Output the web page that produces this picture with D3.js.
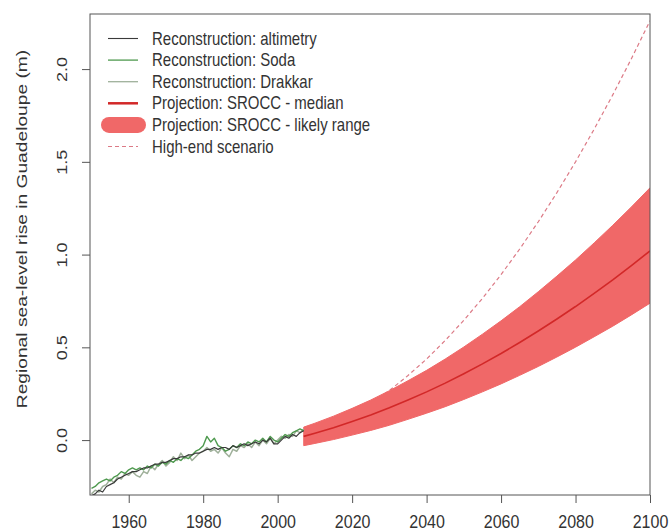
<!DOCTYPE html>
<html>
<head>
<meta charset="utf-8">
<script src="https://cdn.jsdelivr.net/npm/d3@7"></script>
<style>
  html, body { margin: 0; padding: 0; background: #fff; }
  svg { display: block; font-family: "Liberation Sans", Arial, sans-serif; }
</style>
</head>
<body>
<svg id="chart" width="670" height="532"></svg>
<script>
// Reconstructed sea level, annual values 1950-2007 (m)
const reconYears = d3.range(1950, 2008);
const altimetry = [-0.30,-0.29,-0.27,-0.28,-0.25,-0.24,-0.23,-0.21,-0.20,-0.19,
  -0.18,-0.17,-0.17,-0.16,-0.15,-0.15,-0.14,-0.13,-0.13,-0.12,
  -0.12,-0.11,-0.10,-0.10,-0.09,-0.09,-0.08,-0.08,-0.07,-0.07,
  -0.06,-0.05,-0.05,-0.04,-0.05,-0.04,-0.04,-0.05,-0.03,-0.04,
  -0.03,-0.02,-0.03,-0.02,-0.01,-0.02,0.00,-0.01,0.01,-0.02,
  -0.02,0.00,0.02,0.01,0.03,0.02,0.04,0.05];
const soda = [-0.26,-0.25,-0.23,-0.22,-0.21,-0.22,-0.20,-0.19,-0.17,-0.18,
  -0.16,-0.15,-0.16,-0.15,-0.16,-0.14,-0.15,-0.13,-0.14,-0.12,
  -0.13,-0.11,-0.12,-0.10,-0.11,-0.09,-0.10,-0.08,-0.06,-0.05,
  -0.03,0.02,-0.01,0.01,-0.03,-0.04,-0.06,-0.05,-0.03,-0.04,
  -0.02,-0.03,-0.01,-0.02,0.00,-0.01,0.01,-0.01,0.02,0.00,
  -0.01,0.01,0.03,0.02,0.04,0.05,0.06,0.05];
const drakkar = [-0.29,-0.27,-0.28,-0.25,-0.24,-0.21,-0.23,-0.20,-0.21,-0.18,
  -0.19,-0.17,-0.19,-0.20,-0.17,-0.18,-0.14,-0.16,-0.13,-0.11,
  -0.14,-0.12,-0.09,-0.11,-0.07,-0.10,-0.08,-0.11,-0.09,-0.07,
  -0.06,-0.04,-0.06,-0.05,-0.07,-0.04,-0.07,-0.09,-0.05,-0.06,
  -0.03,-0.04,-0.02,-0.04,-0.01,-0.03,0.00,-0.02,0.01,-0.02,
  0.00,0.02,0.01,0.03,0.02,0.05,0.04,0.06];

// SROCC projection (m)
const projYears = [2007,2010,2015,2020,2025,2030,2035,2040,2045,2050,2055,2060,2065,2070,2075,2080,2085,2090,2095,2100];
const srocMedian = [0.020,0.037,0.067,0.100,0.135,0.174,0.216,0.260,0.307,0.358,0.411,0.467,0.526,0.588,0.653,0.720,0.791,0.864,0.941,1.020];
const srocUpper = [0.070,0.091,0.129,0.171,0.216,0.266,0.320,0.376,0.437,0.502,0.571,0.643,0.719,0.800,0.884,0.971,1.063,1.158,1.257,1.360];
const srocLower = [-0.030,-0.018,0.003,0.027,0.052,0.080,0.112,0.145,0.180,0.219,0.260,0.303,0.349,0.397,0.448,0.501,0.557,0.614,0.675,0.738];
const highEnd = [0.020,0.041,0.083,0.135,0.196,0.267,0.348,0.437,0.537,0.646,0.764,0.892,1.030,1.177,1.334,1.500,1.676,1.861,2.056,2.260];

const xTicks = [1960,1980,2000,2020,2040,2060,2080,2100];
const yTicks = [0.0,0.5,1.0,1.5,2.0];
const legendLabels = ["Reconstruction: altimetry","Reconstruction: Soda","Reconstruction: Drakkar",
  "Projection: SROCC - median","Projection: SROCC - likely range","High-end scenario"];

const C = {
  altimetry: "#3a3a3a", soda: "#4f9a4f", drakkar: "#9fb09a",
  band: "#f06868", median: "#d22828", highEnd: "#dc7a86", frame: "#555", text: "#333"
};

// glyphs are drawn slightly tall, as in the printed figure
const TALL = 1.2;

const svg = d3.select("#chart");
const plot = {left: 90, right: 650, top: 14, bottom: 495};

const x = d3.scaleLinear().domain([1949.6, 2100]).range([plot.left, plot.right]);
const y = d3.scaleLinear().domain([-0.296, 2.297]).range([plot.bottom, plot.top]);

svg.append("clipPath").attr("id", "clip").append("rect")
  .attr("x", plot.left).attr("y", plot.top)
  .attr("width", plot.right - plot.left).attr("height", plot.bottom - plot.top);

const g = svg.append("g").attr("clip-path", "url(#clip)");

const line = d3.line().x(d => x(d[0])).y(d => y(d[1]));

// high-end scenario (beneath the likely range)
g.append("path")
  .attr("d", line(projYears.map((t, i) => [t, highEnd[i]])))
  .attr("fill", "none").attr("stroke", C.highEnd).attr("stroke-width", 1.2)
  .attr("stroke-dasharray", "4,3");

// likely range
const area = d3.area().x(d => x(d.t)).y0(d => y(d.lo)).y1(d => y(d.hi));
g.append("path")
  .attr("d", area(projYears.map((t, i) => ({t, lo: srocLower[i], hi: srocUpper[i]}))))
  .attr("fill", C.band).attr("stroke", C.band).attr("stroke-width", 1);

// median
g.append("path")
  .attr("d", line(projYears.map((t, i) => [t, srocMedian[i]])))
  .attr("fill", "none").attr("stroke", C.median).attr("stroke-width", 1.6);

// reconstructions
[[drakkar, C.drakkar, 1.5], [soda, C.soda, 1.4], [altimetry, C.altimetry, 1.2]].forEach(([vals, col, w]) => {
  g.append("path")
    .attr("d", line(reconYears.map((t, i) => [t, vals[i]])))
    .attr("fill", "none").attr("stroke", col).attr("stroke-width", w)
    .attr("stroke-linejoin", "round");
});

// frame
svg.append("rect")
  .attr("x", plot.left).attr("y", plot.top)
  .attr("width", plot.right - plot.left).attr("height", plot.bottom - plot.top)
  .attr("fill", "none").attr("stroke", C.frame).attr("stroke-width", 1);

// x axis
const xAxis = d3.axisBottom(x).tickValues(xTicks).tickSize(8).tickFormat(d3.format("d"));
const gx = svg.append("g").attr("transform", `translate(0,${plot.bottom})`).call(xAxis);
gx.select(".domain").remove();
gx.selectAll(".tick line").attr("stroke", C.frame);
gx.selectAll(".tick text").attr("fill", C.text).attr("font-size", 16)
  .attr("font-family", "'Liberation Sans', Arial, sans-serif")
  .attr("y", 0).attr("dy", null)
  .attr("transform", `translate(0,33) scale(1,${TALL})`);

// y axis
const yAxis = d3.axisLeft(y).tickValues(yTicks).tickSize(8).tickFormat(d3.format(".1f"));
const gy = svg.append("g").attr("transform", `translate(${plot.left},0)`).call(yAxis);
gy.select(".domain").remove();
gy.selectAll(".tick line").attr("stroke", C.frame);
gy.selectAll(".tick text").attr("fill", C.text).attr("font-size", 15)
  .attr("font-family", "'Liberation Sans', Arial, sans-serif")
  .attr("text-anchor", "middle").attr("x", 0).attr("y", 0).attr("dy", null)
  .attr("transform", `translate(-23,0) rotate(-90) scale(${TALL},1)`);

// y title
svg.append("text")
  .attr("transform", "translate(27,229) rotate(-90) scale(1.28,1)")
  .attr("text-anchor", "middle").attr("font-size", 15).attr("fill", C.text)
  .text("Regional sea-level rise in Guadeloupe (m)");

// legend
const leg = svg.append("g");
const legY0 = 38.5, legDy = 21.6;
legendLabels.forEach((lab, i) => {
  const yy = legY0 + i * legDy;
  if (i === 4) {
    leg.append("line").attr("x1", 109).attr("x2", 138).attr("y1", yy).attr("y2", yy)
      .attr("stroke", C.band).attr("stroke-width", 16).attr("stroke-linecap", "round");
  } else {
    const col = [C.altimetry, C.soda, C.drakkar, C.median, null, C.highEnd][i];
    const w = [1.1, 1.3, 1.3, 2.5, 0, 1.2][i];
    leg.append("line").attr("x1", 108).attr("x2", 138).attr("y1", yy).attr("y2", yy)
      .attr("stroke", col).attr("stroke-width", w)
      .attr("stroke-dasharray", i === 5 ? "4,3" : null);
  }
  leg.append("text").attr("transform", `translate(152,${yy + 6}) scale(1,${TALL})`)
    .attr("font-size", 15).attr("fill", C.text).text(lab);
});
</script>
</body>
</html>
